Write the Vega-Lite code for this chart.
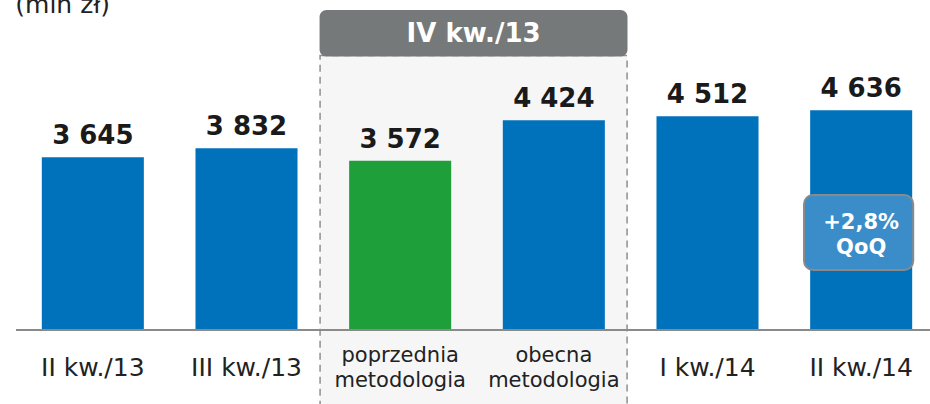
{
  "$schema": "https://vega.github.io/schema/vega-lite/v6.json",
  "autosize": "none",
  "width": 914,
  "height": 237,
  "padding": {"left": 16, "top": 93, "right": 0, "bottom": 74},
  "background": "white",
  "config": {
    "view": {"stroke": null},
    "locale": {"number": {"decimal": ",", "thousands": " ", "grouping": [3], "currency": ["", ""]}}
  },
  "datasets": {
    "slupki": [
      {"kat": "II kw./13", "wartosc": 3645, "grupa": "standard"},
      {"kat": "III kw./13", "wartosc": 3832, "grupa": "standard"},
      {"kat": "poprzednia metodologia", "wartosc": 3572, "grupa": "poprzednia"},
      {"kat": "obecna metodologia", "wartosc": 4424, "grupa": "standard"},
      {"kat": "I kw./14", "wartosc": 4512, "grupa": "standard"},
      {"kat": "II kw./14", "wartosc": 4636, "grupa": "standard"}
    ],
    "okres": [
      {"od": "poprzednia metodologia", "do": "obecna metodologia", "naglowek": "IV kw./13"}
    ],
    "zmiana": [
      {"kat": "II kw./14", "etykieta": "+2,8% QoQ"}
    ],
    "jednostka": [
      {"kat": "II kw./13", "tekst": "(mln zł)"}
    ]
  },
  "layer": [
    {
      "data": {"name": "okres"},
      "mark": {"type": "rect", "fill": "#f6f6f6", "stroke": "#8f8f8f", "strokeWidth": 1.5, "strokeDash": [7, 5]},
      "encoding": {
        "x": {"field": "od", "type": "nominal", "bandPosition": -0.285,
              "scale": {"domain": ["II kw./13", "III kw./13", "poprzednia metodologia", "obecna metodologia", "I kw./14", "II kw./14"], "range": [0, 922], "paddingInner": 0.336, "paddingOuter": 0.168},
              "axis": null},
        "x2": {"field": "do", "bandPosition": 1.218},
        "y": {"datum": 5790, "type": "quantitative", "scale": {"domain": [0, 5000], "nice": false, "zero": true}, "axis": null},
        "y2": {"datum": -1700}
      }
    },
    {
      "data": {"name": "okres"},
      "mark": {"type": "rect", "fill": "#767979", "cornerRadius": 7},
      "encoding": {
        "x": {"field": "od", "type": "nominal", "bandPosition": -0.29},
        "x2": {"field": "do", "bandPosition": 1.222},
        "y": {"datum": 6750, "type": "quantitative"},
        "y2": {"datum": 5770}
      }
    },
    {
      "data": {"name": "okres"},
      "mark": {"type": "text", "font": "DejaVu Sans", "fontWeight": "bold", "fontSize": 26, "color": "white", "align": "center", "baseline": "middle"},
      "encoding": {
        "x": {"field": "od", "type": "nominal", "bandPosition": 1.22},
        "y": {"datum": 6250, "type": "quantitative"},
        "text": {"field": "naglowek"}
      }
    },
    {
      "data": {"name": "jednostka"},
      "mark": {"type": "text", "font": "DejaVu Sans", "fontSize": 25, "color": "#222222", "align": "left", "baseline": "alphabetic"},
      "encoding": {
        "x": {"field": "kat", "type": "nominal", "bandPosition": -0.26},
        "y": {"datum": 6690, "type": "quantitative"},
        "text": {"field": "tekst"}
      }
    },
    {
      "data": {"name": "slupki"},
      "mark": {"type": "bar"},
      "encoding": {
        "x": {"field": "kat", "type": "nominal"},
        "y": {"field": "wartosc", "type": "quantitative"},
        "color": {"field": "grupa", "type": "nominal", "scale": {"domain": ["standard", "poprzednia"], "range": ["#0072bc", "#1e9f3a"]}, "legend": null}
      }
    },
    {
      "data": {"name": "slupki"},
      "mark": {"type": "text", "font": "DejaVu Sans", "fontWeight": "bold", "fontSize": 26, "color": "#1a1a1a", "baseline": "alphabetic", "dy": -13},
      "encoding": {
        "x": {"field": "kat", "type": "nominal"},
        "y": {"field": "wartosc", "type": "quantitative"},
        "text": {"field": "wartosc", "type": "quantitative", "format": ",d"}
      }
    },
    {
      "data": {"name": "slupki"},
      "transform": [{"filter": "indexof(datum.kat, 'metodologia') < 0"}],
      "mark": {"type": "text", "font": "DejaVu Sans", "fontSize": 25, "color": "#222222", "baseline": "middle"},
      "encoding": {
        "x": {"field": "kat", "type": "nominal"},
        "y": {"datum": -800, "type": "quantitative"},
        "text": {"field": "kat"}
      }
    },
    {
      "data": {"name": "slupki"},
      "transform": [{"filter": "indexof(datum.kat, 'metodologia') >= 0"}],
      "mark": {"type": "text", "font": "DejaVu Sans", "fontSize": 21, "color": "#222222", "baseline": "middle", "lineBreak": " ", "lineHeight": 25},
      "encoding": {
        "x": {"field": "kat", "type": "nominal"},
        "y": {"datum": -550, "type": "quantitative"},
        "text": {"field": "kat"}
      }
    },
    {
      "data": {"name": "slupki"},
      "mark": {"type": "rule", "color": "#8a8a8a", "strokeWidth": 2},
      "encoding": {
        "y": {"datum": 0, "type": "quantitative"}
      }
    },
    {
      "data": {"name": "zmiana"},
      "mark": {"type": "rect", "fill": "#3a8dc9", "stroke": "#8a8a8a", "strokeWidth": 2, "cornerRadius": 9},
      "encoding": {
        "x": {"field": "kat", "type": "nominal", "bandPosition": -0.06},
        "x2": {"field": "kat", "bandPosition": 1.01},
        "y": {"datum": 2848, "type": "quantitative"},
        "y2": {"datum": 1266}
      }
    },
    {
      "data": {"name": "zmiana"},
      "mark": {"type": "text", "font": "DejaVu Sans", "fontWeight": "bold", "fontSize": 21, "color": "white", "baseline": "middle", "lineBreak": " ", "lineHeight": 25},
      "encoding": {
        "x": {"field": "kat", "type": "nominal"},
        "y": {"datum": 2257, "type": "quantitative"},
        "text": {"field": "etykieta"}
      }
    }
  ]
}
